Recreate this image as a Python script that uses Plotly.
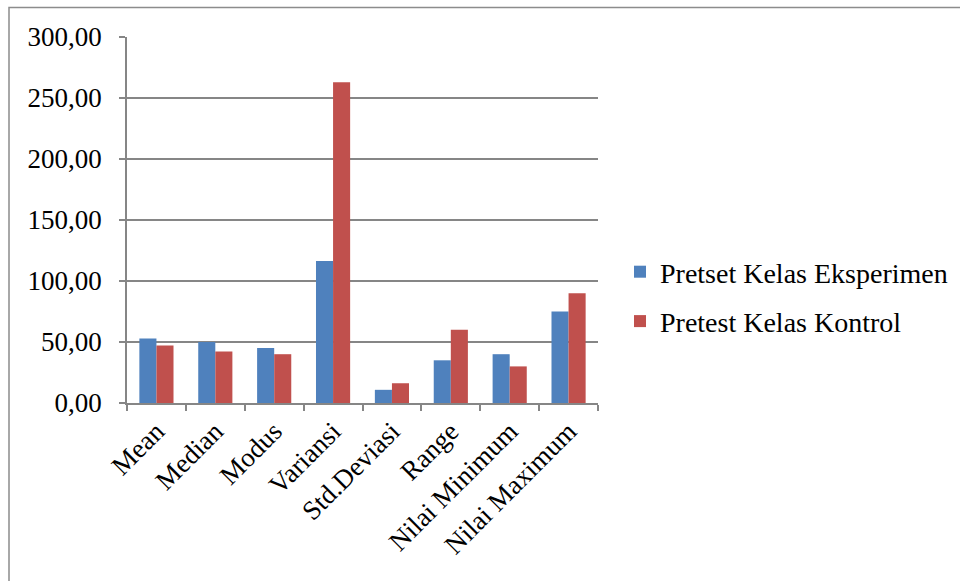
import plotly.graph_objects as go

categories = ["Mean", "Median", "Modus", "Variansi", "Std.Deviasi", "Range", "Nilai Minimum", "Nilai Maximum"]
eksperimen = [52.9, 50.0, 45.0, 116.3, 10.8, 35.0, 40.0, 75.0]
kontrol = [47.1, 42.2, 40.0, 263.0, 16.2, 60.0, 30.0, 90.0]
series_names = ["Pretset Kelas Eksperimen", "Pretest Kelas Kontrol"]
y_ticks = [0, 50, 100, 150, 200, 250, 300]

FONT = "Liberation Serif"
GRID = "#868686"
FS = 27

fig = go.Figure()
fig.add_trace(go.Bar(x=categories, y=eksperimen, name=series_names[0],
                     marker=dict(color="#4F81BD", line=dict(width=0)), legendgroup="a"))
fig.add_trace(go.Bar(x=categories, y=kontrol, name=series_names[1],
                     marker=dict(color="#C0504D", line=dict(width=0)), legendgroup="b"))

L, R, T, B = 127, 598, 37, 403
W, H = 960, 581
pw, ph = R - L, B - T

def px(x):
    return (x - L) / pw

def py(y):
    return (B - y) / ph

fig.update_layout(
    width=W, height=H,
    margin=dict(l=L, r=W - R, t=T, b=H - B, autoexpand=False),
    paper_bgcolor="white", plot_bgcolor="white",
    barmode="group", bargap=0.42, bargroupgap=0,
    separators=",.",
    font=dict(family=FONT, size=FS, color="black"),
    legend=dict(x=px(620), y=py(247), xanchor="left", yanchor="top",
                font=dict(family=FONT, size=28, color="black"),
                tracegroupgap=10, bgcolor="rgba(0,0,0,0)"),
    xaxis=dict(type="category", tickson="boundaries", ticks="outside", ticklen=6,
               tickcolor=GRID, tickwidth=1.5, showline=True, linecolor=GRID, linewidth=1.5,
               tickangle=-45, showgrid=False,
               tickfont=dict(family=FONT, size=FS, color="black")),
    yaxis=dict(range=[0, 300], tickvals=y_ticks, tickformat=".2f", ticks="outside",
               ticklen=6, tickcolor=GRID, tickwidth=1.5, showline=True, linecolor=GRID,
               linewidth=1.5, gridcolor=GRID, gridwidth=1.5, zeroline=False,
               ticklabelstandoff=12,
               tickfont=dict(family=FONT, size=FS, color="black")),
    shapes=[dict(type="rect", xref="paper", yref="paper",
                 x0=px(9), x1=px(975), y0=py(600), y1=py(7.5),
                 line=dict(color="#8c8c8c", width=1.5), fillcolor="rgba(0,0,0,0)",
                 layer="below")],
)

fig.write_html("out.html")
